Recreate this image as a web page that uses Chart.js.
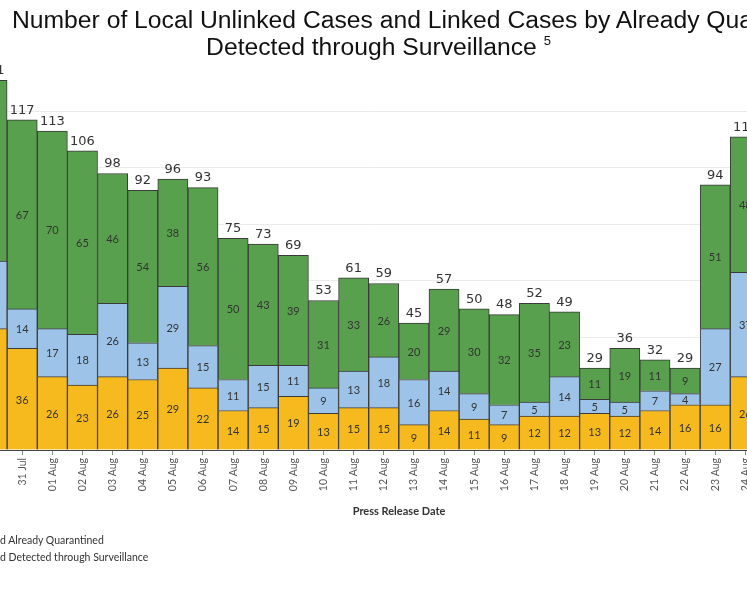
<!DOCTYPE html>
<html>
<head>
<meta charset="utf-8">
<script src="https://cdn.jsdelivr.net/npm/chart.js@4.4.1/dist/chart.umd.min.js"></script>
<style>
html,body{margin:0;padding:0;width:747px;height:598px;overflow:hidden;background:#fff;}
body{position:relative;}
#wrap{position:absolute;left:-100px;top:0;width:960px;height:598px;}
#t1{position:absolute;left:12px;top:7px;font:24.7px/25px "Liberation Sans",Arial,sans-serif;white-space:nowrap;color:#111;}
#t2{position:absolute;left:0;width:757px;top:34px;text-align:center;font:24.7px/25px "Liberation Sans",Arial,sans-serif;white-space:nowrap;color:#111;}
#t2 sup{font-size:13px;vertical-align:10px;line-height:0;}
#xt{position:absolute;left:299px;width:200px;top:504px;text-align:center;font:bold 11px/14px Lato,sans-serif;color:#333;}
.lg{position:absolute;font:10.5px/14px Lato,sans-serif;color:#333;white-space:nowrap;}
.lg .sw{display:inline-block;width:10px;height:10px;margin-right:6px;vertical-align:-1px;}
</style>
</head>
<body>
<div id="wrap"><canvas id="c" width="960" height="598"></canvas></div>
<div id="t1">Number of Local Unlinked Cases and Linked Cases by Already Quarantined and</div>
<div id="t2">Detected through Surveillance <sup>5</sup></div>
<div id="xt">Press Release Date</div>
<div class="lg" id="lg1" style="top:533px"><span class="sw" style="background:#F6BA1E"></span><span class="tx">Linked Already Quarantined</span></div>
<div class="lg" id="lg2" style="top:550px"><span class="sw" style="background:#9DC4E8"></span><span class="tx">Linked Detected through Surveillance</span></div>
<script>
const dates = ['30 Jul','31 Jul','01 Aug','02 Aug','03 Aug','04 Aug','05 Aug','06 Aug','07 Aug','08 Aug','09 Aug','10 Aug','11 Aug','12 Aug','13 Aug','14 Aug','15 Aug','16 Aug','17 Aug','18 Aug','19 Aug','20 Aug','21 Aug','22 Aug','23 Aug','24 Aug'];
const quarantined  = [43,36,26,23,26,25,29,22,14,15,19,13,15,15, 9,14,11, 9,12,12,13,12,14,16,16,26];
const surveillance = [24,14,17,18,26,13,29,15,11,15,11, 9,13,18,16,14, 9, 7, 5,14, 5, 5, 7, 4,27,37];
const unlinked     = [64,67,70,65,46,54,38,56,50,43,39,31,33,26,20,29,30,32,35,23,11,19,11, 9,51,48];
const totals = dates.map((d,i)=>quarantined[i]+surveillance[i]+unlinked[i]);

const labelPlugin = {
  id:'segLabels',
  afterDatasetsDraw(chart){
    const ctx = chart.ctx;
    ctx.save();
    ctx.textAlign='center';
    ctx.textBaseline='middle';
    ctx.font='11px Lato, sans-serif';
    ctx.fillStyle='#333';
    chart.data.datasets.forEach((ds,i)=>{
      const meta = chart.getDatasetMeta(i);
      meta.data.forEach((bar,j)=>{
        const v = ds.data[j];
        if(v==null) return;
        ctx.fillText(String(v), bar.x, (bar.y+bar.base)/2+1);
      });
    });
    const topMeta = chart.getDatasetMeta(chart.data.datasets.length-1);
    ctx.font='13px "DejaVu Sans", sans-serif';
    ctx.textBaseline='bottom';
    topMeta.data.forEach((bar,j)=>{
      ctx.fillText(String(totals[j]), bar.x, bar.y-3);
    });
    ctx.restore();
  }
};

new Chart(document.getElementById('c'),{
  type:'bar',
  data:{
    labels:dates,
    datasets:[
      {label:'Linked Already Quarantined', data:quarantined, backgroundColor:'#F6BA1E'},
      {label:'Linked Detected through Surveillance', data:surveillance, backgroundColor:'#9DC4E8'},
      {label:'Unlinked', data:unlinked, backgroundColor:'#59A04E'}
    ]
  },
  options:{
    responsive:false,
    animation:false,
    devicePixelRatio:1,
    layout:{padding:{left:77,right:99.6,top:55,bottom:0}},
    plugins:{legend:{display:false},tooltip:{enabled:false},title:{display:false}},
    datasets:{bar:{barPercentage:1,categoryPercentage:1,borderWidth:1,borderColor:'#3a3a3a'}},
    scales:{
      x:{
        stacked:true,
        grid:{offset:false,drawOnChartArea:false,drawTicks:true,tickLength:5,color:'#888'},
        border:{display:true,color:'#444'},
        ticks:{minRotation:90,maxRotation:90,autoSkip:false,padding:3,color:'#555',font:{family:'Lato',size:10.5}},
        afterFit(s){s.height=148;}
      },
      y:{
        stacked:true,min:0,max:140,
        ticks:{display:false,stepSize:20},
        grid:{drawTicks:false,color:(c)=>(c.tick && (c.tick.value===140||c.tick.value===0))?'rgba(0,0,0,0)':'#ebebeb'},
        border:{display:false},
        afterFit(s){s.width=0;}
      }
    }
  },
  plugins:[labelPlugin]
});

// legend: clip the leading "Linke" off the left edge as in the reference
document.querySelectorAll('.lg').forEach(el=>{
  const probe=document.createElement('span');
  probe.style.font='10.5px Lato, sans-serif';
  probe.style.position='absolute';
  probe.style.visibility='hidden';
  probe.textContent='Linke';
  document.body.appendChild(probe);
  const w=probe.getBoundingClientRect().width;
  probe.remove();
  const sw=el.querySelector('.sw').getBoundingClientRect().width+6;
  el.style.left=(-w-sw)+'px';
});
</script>
</body>
</html>
